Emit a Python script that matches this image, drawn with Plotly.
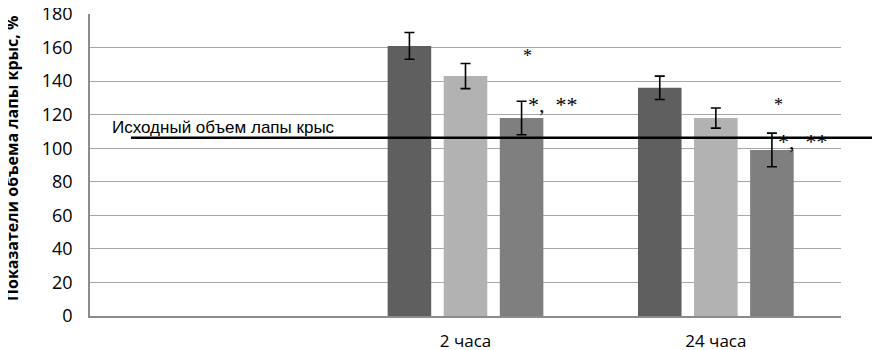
import plotly.graph_objects as go

categories = ["2 часа", "24 часа"]
series_names = ["Группа 1", "Группа 2", "Группа 3"]
values_dark = [161, 136]
err_dark = [8, 7]
values_light = [143, 118]
err_light = [7.5, 6]
values_mid = [118, 99]
err_mid = [10, 10]
baseline_value = 106.3
baseline_label = "Исходный объем лапы крыс"
y_title = "Показатели объема лапы крыс, %"
y_ticks = [0, 20, 40, 60, 80, 100, 120, 140, 160, 180]

colors = ["#5f5f5f", "#b2b2b2", "#7f7f7f"]
xpos = [i + 1 for i in range(len(categories))]

fig = go.Figure()
for name, vals, errs, col in zip(series_names,
                                 [values_dark, values_light, values_mid],
                                 [err_dark, err_light, err_mid], colors):
    fig.add_trace(go.Bar(
        x=xpos, y=vals, name=name, marker_color=col, marker_line_width=0,
        error_y=dict(type="data", array=errs, visible=True, color="black",
                     thickness=1.6, width=5),
    ))

# page body has an 8px default margin: figure is 872x342 placed at (8, 8)
fig.update_layout(
    width=872, height=342,
    margin=dict(l=82, r=39, t=6, b=34),
    paper_bgcolor="white", plot_bgcolor="white",
    barmode="group", bargap=0.328, bargroupgap=0.223,
    showlegend=False,
    font=dict(family="Open Sans", color="black"),
)
fig.update_xaxes(
    range=[-0.5, 2.5], tickvals=xpos, ticktext=categories, automargin=False,
    showgrid=False, showline=True, linecolor="#8c8c8c", linewidth=1.5,
    ticks="", tickfont=dict(size=17, family="Open Sans"), zeroline=False,
    ticklabelstandoff=9, ticklabeloverflow="allow",
)
fig.update_yaxes(
    range=[0, 180], tickvals=y_ticks, showgrid=True, gridcolor="#a6a6a6",
    gridwidth=1.3, showline=True, linecolor="#8c8c8c", linewidth=1.5,
    ticks="", zeroline=False, tickfont=dict(size=18, family="Open Sans"),
    automargin=False, ticklabelstandoff=12, ticklabeloverflow="allow",
)

fig.add_annotation(xref="paper", yref="paper", x=-0.104, y=0.523,
                   xanchor="center", yanchor="middle",
                   text="<b>" + y_title + "</b>", textangle=-90, showarrow=False,
                   font=dict(size=16, family="Open Sans", color="black"))

fig.add_shape(type="line", xref="paper", yref="y", x0=0.0546, x1=1.06,
              y0=baseline_value, y1=baseline_value,
              line=dict(color="black", width=2.5))
fig.add_annotation(xref="paper", yref="y", x=0.026, y=baseline_value,
                   text=baseline_label, showarrow=False, xanchor="left",
                   yanchor="bottom", yshift=-1,
                   font=dict(family="Liberation Sans", size=17, color="black"))

# significance marks
offset = 0.224
for i, (v, e) in enumerate(zip(values_mid, err_mid)):
    xc = xpos[i] + offset
    fig.add_annotation(x=xc + 0.025, y=v + e + [27, 17][i], text="*",
                       showarrow=False, font=dict(family="Liberation Serif", size=18, color="black"))
    fig.add_annotation(x=xc + 0.125, y=v + e + [-2, -5][i], text="*,  **", xanchor="center",
                       showarrow=False, font=dict(family="Liberation Serif", size=22, color="black"))

fig.write_html("out.html")
